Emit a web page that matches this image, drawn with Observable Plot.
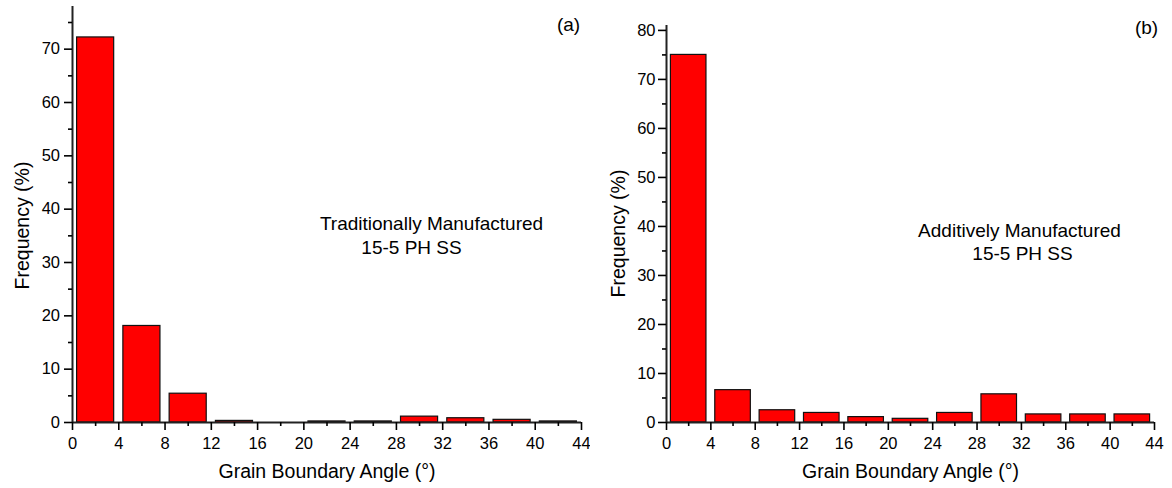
<!DOCTYPE html>
<html>
<head>
<meta charset="utf-8">
<script src="https://cdn.jsdelivr.net/npm/d3@7"></script>
<script src="https://cdn.jsdelivr.net/npm/@observablehq/plot@0.6"></script>
<style>
  html, body { margin: 0; padding: 0; background: #fff; }
  #wrap { position: relative; width: 1172px; height: 488px; background: #fff; overflow: hidden; }
  #wrap svg { position: absolute; top: 0; }
</style>
</head>
<body>
<div id="wrap"></div>
<script>
// ---- data ----
const binStarts = [0, 4, 8, 12, 16, 20, 24, 28, 32, 36, 40];
const binWidth = 4;
const freqA = [72.2, 18.1, 5.4, 0.3, 0, 0.2, 0.2, 1.1, 0.8, 0.5, 0.2];
const freqB = [75.0, 6.6, 2.5, 1.95, 1.1, 0.75, 1.95, 5.75, 1.65, 1.65, 1.65];
const xTicks = [0, 4, 8, 12, 16, 20, 24, 28, 32, 36, 40, 44];
const xMinor = [2, 6, 10, 14, 18, 22, 26, 30, 34, 38, 42];
const yTicksA = [0, 10, 20, 30, 40, 50, 60, 70];
const yMinorA = [5, 15, 25, 35, 45, 55, 65, 75];
const yTicksB = [0, 10, 20, 30, 40, 50, 60, 70, 80];
const yMinorB = [5, 15, 25, 35, 45, 55, 65, 75];
const xLabel = "Grain Boundary Angle (°)";
const yLabel = "Frequency (%)";
const noteA = ["Traditionally Manufactured", "15-5 PH SS"];
const noteB = ["Additively Manufactured", "15-5 PH SS"];
const tagA = "(a)";
const tagB = "(b)";

const rows = vals => binStarts.map((s, i) => ({start: s, end: s + binWidth, value: vals[i]}));
const FONT = "'Liberation Sans', Arial, sans-serif";

function panel(o) {
  const data = rows(o.values);
  return Plot.plot({
    width: o.width, height: 488,
    marginLeft: o.ml, marginRight: o.mr, marginTop: o.mt, marginBottom: 66,
    style: {fontFamily: FONT, fontSize: "16px", color: "#000", background: "#fff"},
    x: {domain: [0, 44]},
    y: {domain: o.yDomain},
    marks: [
      Plot.rectY(data, {x1: "start", x2: "end", y: "value", fill: "#ff0000", stroke: "#111", strokeWidth: 1.2, insetLeft: o.inset, insetRight: o.inset}),
      Plot.ruleY([0], {stroke: "#222", strokeWidth: 2}),
      Plot.ruleX([0], {stroke: "#222", strokeWidth: 2}),
      Plot.axisX({ticks: xTicks, tickSize: 8, tickFormat: () => "", strokeWidth: 1.6, label: null}),
      Plot.axisX({ticks: xMinor, tickSize: 4, tickFormat: () => "", strokeWidth: 1.6, label: null}),
      Plot.axisY({ticks: o.yTicks, tickSize: 8, tickFormat: () => "", strokeWidth: 1.6, label: null}),
      Plot.axisY({ticks: o.yMinor, tickSize: 4, tickFormat: () => "", strokeWidth: 1.6, label: null}),
      Plot.text(xTicks, {x: d => d, frameAnchor: "bottom", text: d => String(d), dy: 21.5, lineAnchor: "middle", textAnchor: "middle", fontSize: 16.5, fill: "#000"}),
      Plot.text(o.yTicks, {y: d => d, frameAnchor: "left", text: d => String(d), dx: o.ylx, lineAnchor: "middle", textAnchor: "end", fontSize: 16.5, fill: "#000"}),
      Plot.text([xLabel], {frameAnchor: "bottom", text: d => d, dy: 49, lineAnchor: "middle", fontSize: 19.5, fill: "#000"}),
      Plot.text([yLabel], {frameAnchor: "left", text: d => d, rotate: -90, dx: o.ydx, dy: o.ydy, lineAnchor: "middle", textAnchor: "middle", fontSize: 19.5, fill: "#000"}),
      Plot.text([o.note[0]], {frameAnchor: "top-left", text: d => d, dx: o.n1[0], dy: o.n1[1], textAnchor: "middle", lineAnchor: "middle", fontSize: 19, fill: "#000"}),
      Plot.text([o.note[1]], {frameAnchor: "top-left", text: d => d, dx: o.n2[0], dy: o.n2[1], textAnchor: "middle", lineAnchor: "middle", fontSize: 19, fill: "#000"}),
      Plot.text([o.tag], {frameAnchor: "top-right", text: d => d, dx: o.tagd[0], dy: o.tagd[1], textAnchor: "middle", lineAnchor: "middle", fontSize: 19, fill: "#000"})
    ]
  });
}

const wrap = document.getElementById("wrap");
const a = panel({
  width: 590, ml: 72, mr: 9, mt: 6, yDomain: [0, 78], inset: 4.6,
  values: freqA, yTicks: yTicksA, yMinor: yMinorA, ylx: -12.5,
  ydx: -50, ydy: 11, note: noteA, n1: [359, 217], n2: [339, 241.5],
  tag: tagA, tagd: [-13, 18]
});
a.style.left = "0px";
wrap.appendChild(a);

const b = panel({
  width: 582, ml: 76, mr: 18, mt: 25, yDomain: [0, 81], inset: 4.4,
  values: freqB, yTicks: yTicksB, yMinor: yMinorB, ylx: -11,
  ydx: -48, ydy: 9.5, note: noteB, n1: [353, 205], n2: [356, 228.5],
  tag: tagB, tagd: [-8, 2]
});
b.style.left = "590px";
wrap.appendChild(b);
</script>
</body>
</html>
